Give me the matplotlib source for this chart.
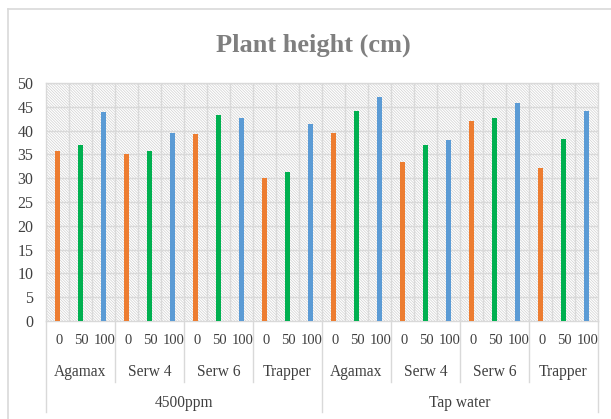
import numpy as np
import matplotlib
matplotlib.use("Agg")
import matplotlib.pyplot as plt
from matplotlib.patches import Rectangle
from matplotlib.lines import Line2D
from matplotlib.transforms import blended_transform_factory

# data: plant height (cm) per treatment level
levels = ["0", "50", "100"]
varieties = ["Agamax", "Serw 4", "Serw 6", "Trapper"]
waters = ["4500ppm", "Tap water"]
heights = [
    35.8, 37.0, 44.0,   # 4500ppm / Agamax
    35.0, 35.8, 39.4,   # 4500ppm / Serw 4
    39.2, 43.3, 42.7,   # 4500ppm / Serw 6
    30.1, 31.4, 41.3,   # 4500ppm / Trapper
    39.4, 44.1, 47.0,   # Tap water / Agamax
    33.5, 37.0, 38.0,   # Tap water / Serw 4
    42.0, 42.6, 45.7,   # Tap water / Serw 6
    32.2, 38.2, 44.1,   # Tap water / Trapper
]
level_colors = ["#ED7D31", "#00B050", "#5B9BD5"]

W, H = 611, 419
my_dpi = 100
grid_col = "#D9D9D9"
text_col = "#404040"
serif = ["Liberation Serif", "DejaVu Serif"]
plt.rcParams["hatch.linewidth"] = 0.5

fig = plt.figure(figsize=(W / my_dpi, H / my_dpi), dpi=my_dpi, facecolor="w")
# plot area in pixels: left 46, right 598, top 83, bottom 321
ax = fig.add_axes([46 / W, (H - 321) / H, 552 / W, 238 / H])

n = len(heights)
x = np.arange(n)
cols = [level_colors[i % 3] for i in range(n)]

# hatched background
bg = Rectangle((0, 0), 1, 1, transform=ax.transAxes, facecolor="white",
               edgecolor="#D0D0D0", linewidth=0, hatch="\\" * 12, zorder=0)
ax.add_patch(bg)

ax.bar(x, heights, width=0.24, color=cols, zorder=3)

ax.set_xlim(-0.5, n - 0.5)
ax.set_ylim(0, 50)
ax.set_yticks(np.arange(0, 51, 5))
ax.set_yticklabels([str(v) for v in range(0, 51, 5)], family=serif,
                   fontsize=11.5, color=text_col)
ax.set_xticks([])
ax.tick_params(axis="y", length=0, pad=9)
for v in range(5, 51, 5):
    ax.axhline(v, color=grid_col, linewidth=1, zorder=1)
for b in np.arange(0.5, n - 1, 1):
    ax.axvline(b, color=grid_col, linewidth=1, zorder=1)
for s in ax.spines.values():
    s.set_color(grid_col)
    s.set_linewidth(1)

# multi-level category axis
tr = blended_transform_factory(ax.transData, ax.transAxes)
for i in range(n):
    ax.text(i + 0.05, -0.082, levels[i % 3], transform=tr, ha="center", va="center",
            family=serif, fontsize=10.5, color=text_col)
for g, name in enumerate(varieties * 2):
    ax.text(g * 3 + 1, -0.214, name, transform=tr, ha="center", va="center",
            family=serif, fontsize=11.2, color=text_col)
for k, name in enumerate(waters):
    ax.text(k * 12 + 5.5, -0.345, name, transform=tr, ha="center", va="center",
            family=serif, fontsize=11.2, color=text_col)

for b in np.arange(2.5, n - 1, 3):
    y_end = -0.382 if b == 11.5 else -0.256
    ax.add_line(Line2D([b, b], [0, y_end], transform=tr, color=grid_col,
                       linewidth=1, clip_on=False))
for b in [-0.5, n - 0.5]:
    ax.add_line(Line2D([b, b], [0, -0.382], transform=tr, color=grid_col,
                       linewidth=1, clip_on=False))

# chart frame
fig.add_artist(Line2D([8 / W, 1], [1 - 9 / H, 1 - 9 / H], transform=fig.transFigure,
                      color=grid_col, linewidth=1.2))
fig.add_artist(Line2D([8 / W, 8 / W], [0, 1 - 9 / H], transform=fig.transFigure,
                      color=grid_col, linewidth=1.2))

fig.text(313 / W, 1 - 45 / H, "Plant height (cm)", ha="center", va="center",
         family=serif, fontsize=19, fontweight="bold", color="#7F7F7F")

fig.savefig("out.png", dpi=my_dpi, facecolor="w")
